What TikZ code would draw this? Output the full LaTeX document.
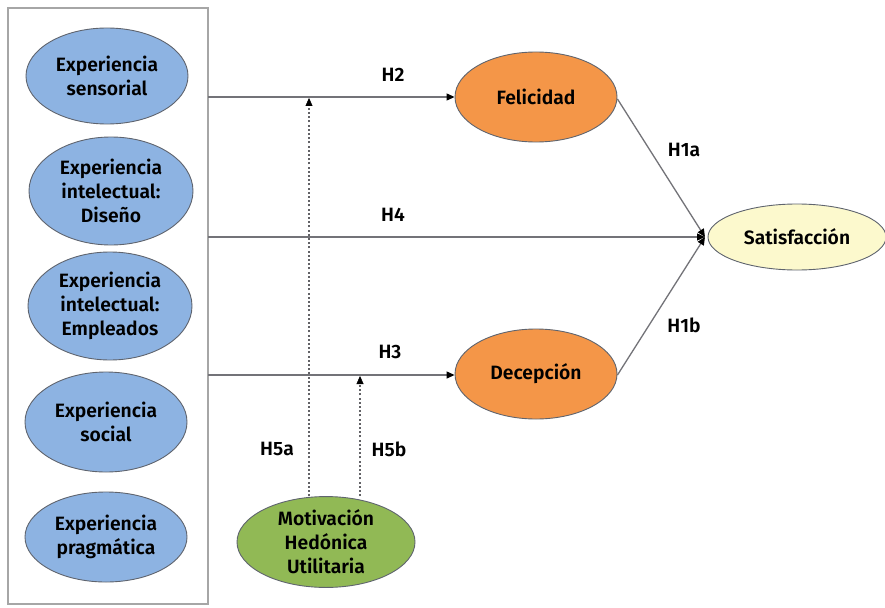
\documentclass[tikz,border=0pt]{standalone}
\usepackage{fontspec}
\setmainfont{Fira Sans}[BoldFont={Fira Sans SemiBold}]
\usetikzlibrary{shapes.geometric,arrows.meta}
\definecolor{expblue}{RGB}{141,179,226}
\definecolor{medorange}{RGB}{244,150,72}
\definecolor{satyellow}{RGB}{252,249,205}
\definecolor{motgreen}{RGB}{145,185,85}
\definecolor{edgegray}{RGB}{95,100,110}
\definecolor{linegray}{RGB}{115,115,120}
\tikzset{
  construct/.style={ellipse, draw=edgegray, line width=0.9pt, align=center,
    inner sep=0pt, font=\fontsize{19.3}{24}\selectfont\bfseries},
  path/.style={draw=linegray, line width=1.3pt,
    -{Triangle[length=8pt,width=7pt,color=black]}},
  moderation/.style={draw=linegray!85!black, line width=2pt, dash pattern=on 2pt off 2.2pt,
    -{Triangle[length=8pt,width=7pt,color=black,line width=0.4pt]}},
  hyp/.style={font=\fontsize{19.3}{20}\selectfont\bfseries}
}
\begin{document}
\begin{tikzpicture}[x=1pt,y=-1pt]
\useasboundingbox (0,0) rectangle (885,607);
\fill[white] (0,0) rectangle (885,607);

% frame around the experience dimensions
\draw[draw=gray!70, line width=1.4pt] (8,8) rectangle (208,604);

% experience dimensions
\node[construct, fill=expblue, minimum width=162pt, minimum height=96pt] (sens) at (107,76) {Experiencia\\sensorial};
\node[construct, fill=expblue, minimum width=164pt, minimum height=108pt] (dis) at (111,191) {Experiencia\\intelectual:\\Diseño};
\node[construct, fill=expblue, minimum width=164pt, minimum height=108pt] (emp) at (110,306) {Experiencia\\intelectual:\\Empleados};
\node[construct, fill=expblue, minimum width=162pt, minimum height=100pt] (soc) at (106,422) {Experiencia\\social};
\node[construct, fill=expblue, minimum width=162pt, minimum height=90pt] (prag) at (106,537) {Experiencia\\pragmática};

% emotions, outcome and moderator
\node[construct, fill=medorange, minimum width=162pt, minimum height=90pt] (fel) at (536,97) {Felicidad};
\node[construct, fill=medorange, minimum width=162pt, minimum height=90pt] (dec) at (536,374) {Decepción};
\node[construct, fill=satyellow, minimum width=178pt, minimum height=66pt] (sat) at (797,237) {Satisfacción};
\node[construct, fill=motgreen, minimum width=178pt, minimum height=90pt] (mot) at (326,542) {Motivación\\Hedónica\\Utilitaria};

% anchor points for the paths
\coordinate (s2) at (208,97);
\coordinate (s4) at (208,237);
\coordinate (s3) at (208,375);
\coordinate (junc) at (705,237);
\coordinate (m5a) at (309,98);
\coordinate (m5b) at (360,376);

% direct paths
\draw[path] (s2) -- (fel.west |- s2);
\draw[path] (s4) -- (junc);
\draw[path] (s3) -- (dec.west |- s3);
\draw[path] ([yshift=-2pt]fel.east) -- (junc);
\draw[path] ([yshift=-1pt]dec.east) -- (junc);

% moderating paths
\draw[moderation] (mot.north -| m5a) -- (m5a);
\draw[moderation] (mot.north -| m5b) -- (m5b);

% hypothesis labels
\node[hyp] (h2) at (393,75) {H2};
\node[hyp] (h4) at (393,215) {H4};
\node[hyp] (h3) at (390,352) {H3};
\node[hyp] (h1a) at (684,150) {H1a};
\node[hyp] (h1b) at (684,325) {H1b};
\node[hyp] (h5a) at (277,449) {H5a};
\node[hyp] (h5b) at (389,449) {H5b};
\end{tikzpicture}
\end{document}
